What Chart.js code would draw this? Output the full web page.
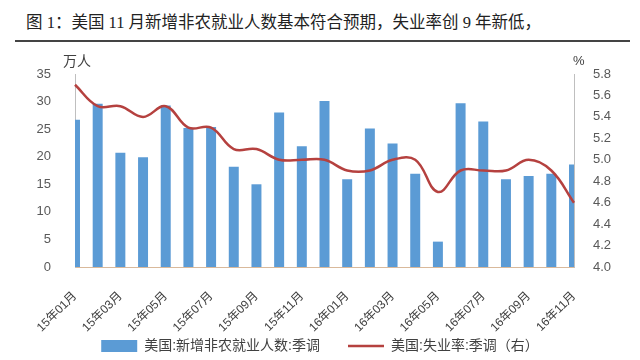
<!DOCTYPE html>
<html>
<head>
<meta charset="utf-8">
<script src="https://cdn.jsdelivr.net/npm/chart.js@4"></script>
<style>
  html, body { margin: 0; padding: 0; background: #fff; }
  #wrap { position: relative; width: 640px; height: 360px; }
  #titulo { position: absolute; left: 26px; top: 11px; font: 16.5px "Liberation Serif", "Noto Sans CJK SC", serif; color: #222; white-space: nowrap; line-height: 24px; }
  #regla { position: absolute; left: 15px; top: 40px; width: 615px; height: 0; border-top: 2px solid #444; }
  canvas { position: absolute; left: 0; top: 0; }
</style>
</head>
<body>
<div id="wrap">
  <div id="titulo">图 1：美国 11 月新增非农就业人数基本符合预期，失业率创 9 年新低，</div>
  <div id="regla"></div>
  <canvas id="grafico" width="640" height="360"></canvas>
</div>
<script>
// Datos
const meses = ['15年01月', '15年02月', '15年03月', '15年04月', '15年05月', '15年06月', '15年07月', '15年08月',
  '15年09月', '15年10月', '15年11月', '15年12月', '16年01月', '16年02月', '16年03月', '16年04月',
  '16年05月', '16年06月', '16年07月', '16年08月', '16年09月', '16年10月', '16年11月'];
const nuevosEmpleos = [26.7, 29.6, 20.7, 19.9, 29.3, 25.2, 25.4, 18.2, 15.0, 28.0, 21.9, 30.1,
  15.9, 25.1, 22.4, 16.9, 4.6, 29.7, 26.4, 15.9, 16.5, 16.9, 18.6];
const tasaDesempleo = [5.7, 5.5, 5.5, 5.4, 5.5, 5.3, 5.3, 5.1, 5.1, 5.0, 5.0, 5.0,
  4.9, 4.9, 5.0, 5.0, 4.7, 4.9, 4.9, 4.9, 5.0, 4.9, 4.6];
const serieBarras = '美国:新增非农就业人数:季调';
const serieLinea = '美国:失业率:季调（右）';

const fuente = '"Liberation Sans", "Noto Sans CJK SC", sans-serif';

// Títulos de los ejes (万人 / %)
const titulosEjes = {
  id: 'titulosEjes',
  afterDraw(chart) {
    const { ctx, chartArea } = chart;
    ctx.save();
    ctx.fillStyle = '#404040';
    ctx.textBaseline = 'middle';
    ctx.textAlign = 'left';
    ctx.font = '14px ' + fuente;
    ctx.fillText('万人', chartArea.left - 12, chartArea.top - 12);
    ctx.font = '13px ' + fuente;
    ctx.fillText('%', chartArea.right - 1, chartArea.top - 13);
    ctx.restore();
  }
};

const ctx = document.getElementById('grafico').getContext('2d');
new Chart(ctx, {
  type: 'bar',
  data: {
    labels: meses,
    datasets: [
      {
        type: 'bar',
        label: serieBarras,
        data: nuevosEmpleos,
        backgroundColor: '#5B9BD5',
        borderWidth: 0,
        yAxisID: 'y',
        categoryPercentage: 1,
        barPercentage: 0.44,
        pointStyle: 'rect',
        clip: 0,
        order: 2
      },
      {
        type: 'line',
        label: serieLinea,
        data: tasaDesempleo,
        borderColor: '#B5413F',
        backgroundColor: '#B5413F',
        borderWidth: 2.5,
        pointRadius: 0,
        tension: 0.4,
        pointStyle: 'line',
        yAxisID: 'y1',
        order: 1
      }
    ]
  },
  options: {
    responsive: false,
    animation: false,
    layout: { padding: { top: 74, left: 0, right: 0, bottom: -3 } },
    plugins: {
      tooltip: { enabled: false },
      legend: {
        position: 'bottom',
        labels: {
          usePointStyle: true,
          pointStyleWidth: 36,
          boxHeight: 12,
          padding: 28,
          color: '#404040',
          font: { size: 14, family: fuente },
          sort: (a, b) => a.datasetIndex - b.datasetIndex
        }
      }
    },
    scales: {
      x: {
        offset: false,
        grid: { display: false, offset: false },
        border: { display: true, color: '#D9B99B', width: 1 },
        ticks: {
          autoSkip: false,
          maxRotation: 45,
          minRotation: 45,
          padding: 14,
          color: '#404040',
          font: { size: 12, family: fuente },
          callback: (v, i) => (i % 2 === 0 ? meses[i] : '')
        },
        afterFit: s => {
          s.height = 44;
          // las etiquetas giradas bajan sobre la zona de la leyenda: sin recorte
          s._computeLabelArea = () => undefined;
        }
      },
      y: {
        position: 'left',
        min: 0,
        max: 35,
        grid: { display: false },
        border: { display: true, color: '#BFBFBF', width: 1 },
        ticks: {
          stepSize: 5,
          padding: 16,
          color: '#595959',
          font: { size: 13, family: fuente }
        },
        afterFit: s => { s.width = 75; }
      },
      y1: {
        position: 'right',
        min: 4.0,
        max: 5.8,
        grid: { display: false },
        border: { display: true, color: '#BFBFBF', width: 1 },
        ticks: {
          stepSize: 0.2,
          padding: 11,
          color: '#595959',
          font: { size: 13, family: fuente },
          callback: v => Number(v).toFixed(1)
        },
        afterFit: s => { s.width = 66; }
      }
    }
  },
  plugins: [titulosEjes]
});
</script>
</body>
</html>
